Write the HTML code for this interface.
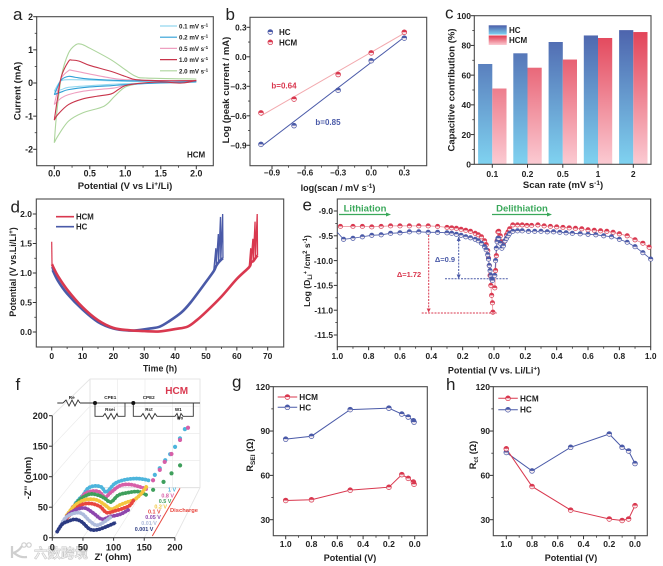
<!DOCTYPE html>
<html>
<head>
<meta charset="utf-8">
<style>
html,body{margin:0;padding:0;background:#fff;width:663px;height:566px;overflow:hidden}
svg{display:block;filter:blur(0.35px);font-family:"Liberation Sans",Arial,sans-serif}
.pl{font-size:17px;fill:#222;font-weight:normal}
.at{font-size:9.5px;font-weight:bold;fill:#222}
.lg{font-size:8px;font-weight:bold;fill:#222}
</style>
</head>
<body>
<svg id="fig" xmlns="http://www.w3.org/2000/svg" width="663" height="566" viewBox="0 0 663 566">
<defs>
<linearGradient id="gHC" x1="0" y1="0" x2="0" y2="1"><stop offset="0" stop-color="#4a5ca8"/><stop offset="1" stop-color="#7fd2f0"/></linearGradient>
<linearGradient id="gHCM" x1="0" y1="0" x2="0" y2="1"><stop offset="0" stop-color="#e0384e"/><stop offset="1" stop-color="#fbcad2"/></linearGradient>
<linearGradient id="gHCb" gradientUnits="userSpaceOnUse" x1="0" y1="20" x2="0" y2="164"><stop offset="0" stop-color="#4a5ca8"/><stop offset="1" stop-color="#7fd2f0"/></linearGradient>
<linearGradient id="gHCMb" gradientUnits="userSpaceOnUse" x1="0" y1="20" x2="0" y2="164"><stop offset="0" stop-color="#e0384e"/><stop offset="1" stop-color="#fbcad2"/></linearGradient>
</defs>
<rect width="663" height="566" fill="#fff"/>

<text class="pl" x="13" y="20">a</text>
<text class="pl" x="225.5" y="20">b</text>
<text class="pl" x="445" y="18.5">c</text>
<text class="pl" x="10.5" y="212.5">d</text>
<text class="pl" x="302.5" y="210.5">e</text>
<text class="pl" x="15.5" y="390">f</text>
<text class="pl" x="232" y="387.5">g</text>
<text class="pl" x="446" y="390">h</text>

<text class="at" x="125" y="189" text-anchor="middle">Potential (V vs Li<tspan font-size="6.5" dy="-3">+</tspan><tspan dy="3">/Li)</tspan></text>
<text class="at" transform="translate(20.5,91) rotate(-90)" text-anchor="middle">Current (mA)</text>
<text class="lg" x="187" y="157.5">HCM</text>

<text class="at" x="338" y="191" text-anchor="middle" style="font-size:9px">log(scan / mV s<tspan font-size="6.5" dy="-3">-1</tspan><tspan dy="3">)</tspan></text>
<text class="at" transform="translate(229,90) rotate(-90)" text-anchor="middle">Log (peak current / mA)</text>
<text class="lg" x="284" y="88.5" text-anchor="middle" style="fill:#d9384f">b=0.64</text>
<text class="lg" x="328" y="125" text-anchor="middle" style="fill:#4a5aa8">b=0.85</text>

<text class="at" x="563" y="188" text-anchor="middle">Scan rate (mV s<tspan font-size="6.5" dy="-3">-1</tspan><tspan dy="3">)</tspan></text>
<text class="at" transform="translate(454.5,90) rotate(-90)" text-anchor="middle">Capacitive contribution (%)</text>

<text class="at" x="160" y="371.5" text-anchor="middle" style="font-size:8.8px">Time (h)</text>
<text class="at" transform="translate(16,272) rotate(-90)" text-anchor="middle" style="font-size:9px">Potential (V vs.Li/Li<tspan font-size="6" dy="-3">+</tspan><tspan dy="3">)</tspan></text>

<text class="at" x="494" y="373.5" text-anchor="middle" style="font-size:9px">Potential (V vs. Li/Li<tspan font-size="6.5" dy="-3">+</tspan><tspan dy="3">)</tspan></text>
<text class="at" transform="translate(310,271) rotate(-90)" text-anchor="middle" style="font-size:8.6px">Log (D<tspan font-size="6" dy="2">Li</tspan><tspan font-size="5.5" dy="-5">+</tspan><tspan dy="3"> /cm</tspan><tspan font-size="6" dy="-3">2</tspan><tspan dy="3"> s</tspan><tspan font-size="6" dy="-3">-1</tspan><tspan dy="3">)</tspan></text>
<text x="365" y="211.5" text-anchor="middle" font-size="9.5" font-weight="bold" fill="#3aa85a">Lithiation</text>
<text x="522" y="211.5" text-anchor="middle" font-size="9.5" font-weight="bold" fill="#3aa85a">Delithiation</text>
<path d="M339 214.5H388" stroke="#3aa85a" stroke-width="1.2" fill="none"/>
<path d="M386 212.5L391 214.5L386 216.5Z" fill="#3aa85a"/>
<path d="M492 214.5H549" stroke="#3aa85a" stroke-width="1.2" fill="none"/>
<path d="M547 212.5L552 214.5L547 216.5Z" fill="#3aa85a"/>

<text class="at" x="350" y="561" text-anchor="middle" style="font-size:9px">Potential (V)</text>
<text class="at" transform="translate(253,455) rotate(-90)" text-anchor="middle" style="font-size:9.2px">R<tspan font-size="6.5" dy="2">SEI</tspan><tspan dy="-2"> (Ω)</tspan></text>
<text class="at" x="571" y="561" text-anchor="middle" style="font-size:9px">Potential (V)</text>
<text class="at" transform="translate(476,455) rotate(-90)" text-anchor="middle" style="font-size:9.2px">R<tspan font-size="6.5" dy="2">ct</tspan><tspan dy="-2"> (Ω)</tspan></text>

<text class="at" x="113" y="560" text-anchor="middle" style="font-size:9.5px">Z' (ohm)</text>
<text class="at" transform="translate(31,478) rotate(-90)" text-anchor="middle" style="font-size:9.5px">-Z'' (ohm)</text>

<g id="watermark">
<path d="M12 546V558M13 553C17 552 20 549 22 546M14 553C17 555 20 558 27 557" fill="none" stroke="#cfcfcf" stroke-width="2.2"/>
<circle cx="24" cy="545" r="2.2" fill="none" stroke="#cfcfcf" stroke-width="1.2"/>
<circle cx="29" cy="545" r="2.2" fill="none" stroke="#cfcfcf" stroke-width="1.2"/>
<text x="34" y="558" font-size="13.5" font-weight="bold" fill="#f3f3f3" stroke="#c9c9c9" stroke-width="0.6" style="font-family:'Liberation Sans','Noto Sans CJK SC',sans-serif">六数跨境</text>
</g>
<g id="layer"></g>
</svg>
<script>
// ---- panel a: cyclic voltammetry (upper and lower branches) ----
const cvRates = ['0.1 mV s', '0.2 mV s', '0.5 mV s', '1.0 mV s', '2.0 mV s'];
const cvUpperV0 = [0, 0.05, 0.1, 0.2, 0.5, 1.0, 1.5, 2.0];
const cvUpperI0 = [-0.25, -0.05, 0.07, 0.1, 0.09, 0.05, 0.05, 0.04];
const cvLowerV0 = [0, 0.1, 0.2, 0.5, 1.0, 1.5, 2.0];
const cvLowerI0 = [-0.25, -0.2, -0.13, -0.08, -0.02, 0, 0.03];
const cvUpperV1 = [0, 0.05, 0.1, 0.2, 0.3, 0.5, 1.0, 1.5, 2.0];
const cvUpperI1 = [-0.35, -0.1, 0.1, 0.2, 0.17, 0.12, 0.07, 0.06, 0.05];
const cvLowerV1 = [0, 0.1, 0.2, 0.5, 0.8, 1.0, 1.5, 2.0];
const cvLowerI1 = [-0.35, -0.27, -0.2, -0.12, -0.08, -0.05, 0, 0.03];
const cvUpperV2 = [0, 0.05, 0.1, 0.2, 0.25, 0.5, 0.8, 1.0, 1.5, 2.0];
const cvUpperI2 = [-0.65, -0.2, 0.15, 0.37, 0.38, 0.27, 0.15, 0.1, 0.07, 0.07];
const cvLowerV2 = [0, 0.1, 0.2, 0.4, 0.7, 0.85, 1.0, 1.2, 1.5, 2.0];
const cvLowerI2 = [-0.65, -0.45, -0.35, -0.25, -0.18, -0.15, -0.07, -0.02, 0.01, 0.05];
const cvUpperV3 = [0, 0.05, 0.1, 0.2, 0.25, 0.35, 0.5, 0.8, 1.0, 1.15, 1.5, 2.0];
const cvUpperI3 = [-1.12, -0.4, 0.2, 0.65, 0.69, 0.66, 0.53, 0.35, 0.2, 0.1, 0.07, 0.07];
const cvLowerV3 = [0, 0.05, 0.2, 0.4, 0.6, 0.8, 0.9, 1.0, 1.2, 1.5, 1.8, 2.0];
const cvLowerI3 = [-1.12, -0.95, -0.65, -0.48, -0.4, -0.33, -0.2, -0.08, -0.01, 0.03, 0, 0.08];
const cvUpperV4 = [0, 0.03, 0.1, 0.2, 0.3, 0.38, 0.5, 0.8, 1.0, 1.15, 1.3, 2.0];
const cvUpperI4 = [-1.8, -1.0, 0.2, 0.9, 1.15, 1.17, 1.05, 0.7, 0.4, 0.2, 0.15, 0.12];
const cvLowerV4 = [0, 0.05, 0.2, 0.4, 0.7, 0.85, 1.0, 1.2, 1.5, 2.0];
const cvLowerI4 = [-1.8, -1.6, -1.15, -0.9, -0.7, -0.4, -0.12, -0.02, 0.03, 0.06];
const aXTicks = [0, 0.5, 1, 1.5, 2];
const aXLabels = ['0.0', '0.5', '1.0', '1.5', '2.0'];
const aXMinor = [0.25, 0.75, 1.25, 1.75];
const aYTicks = [-2, -1, 0, 1, 2];
const aYLabels = ['-2', '-1', '0', '1', '2'];
const aYMinor = [-1.5, -0.5, 0.5, 1.5];

// ---- panel b: peak current fit ----
const bScan = [-1, -0.7, -0.3, 0, 0.3];
const bHC = [-0.89, -0.7, -0.34, -0.04, 0.19];
const bHCM = [-0.57, -0.43, -0.18, 0.04, 0.25];
const bFitX = [-1, 0.3];
const bFitHC = [-0.915, 0.2];
const bFitHCM = [-0.6, 0.24];
const bTicks = [-0.9, -0.6, -0.3, 0, 0.3];
const bXLabels = ['−0.9', '−0.6', '−0.3', '0.0', '0.3'];
const bYLabels = ['−0.9', '−0.6', '−0.3', '0.0', '0.3'];
const bMinor = [-0.75, -0.45, -0.15, 0.15];

// ---- panel c: capacitive contribution ----
const cCats = ['0.1', '0.2', '0.5', '1', '2'];
const cHC = [67.5, 74.7, 82.3, 86.7, 90.3];
const cHCM = [51, 65, 70.5, 85, 89];
const cYTicks = [0, 20, 40, 60, 80, 100];
const cYMinor = [10, 30, 50, 70, 90];

// ---- panel d: GITT curves (spikes begin at dHcmSpikeFrom / dHcSpikeFrom hours) ----
const dHcmT = [0, 0.1, 0.5, 2, 5, 10, 15, 20, 25, 30, 35, 40, 44, 47, 50, 55, 60, 64, 64.5, 64.6, 65.2, 65.3, 65.9, 66, 66.6, 66.7];
const dHcmV = [1.53, 1.15, 1.1, 0.95, 0.72, 0.42, 0.2, 0.07, 0.03, 0.015, 0.01, 0.05, 0.09, 0.2, 0.34, 0.6, 0.9, 1.1, 1.42, 1.18, 1.58, 1.2, 1.87, 1.25, 2.0, 1.3];
const dHcT = [0, 0.3, 2, 5, 10, 15, 20, 25, 28, 32, 35, 38, 42, 45, 50, 52.5, 53.2, 53.3, 54, 54.1, 54.7, 54.8, 55.4, 55.5];
const dHcV = [1.1, 1.05, 0.87, 0.65, 0.38, 0.17, 0.06, 0.025, 0.03, 0.06, 0.09, 0.18, 0.33, 0.5, 0.85, 1.03, 1.42, 1.12, 1.66, 1.18, 1.95, 1.22, 2.0, 1.25];
const dHcmSpikeFrom = 64;
const dHcSpikeFrom = 52.5;
const dXTicks = [0, 10, 20, 30, 40, 50, 60, 70];
const dXMinor = [5, 15, 25, 35, 45, 55, 65];
const dYTicks = [0, 0.5, 1, 1.5, 2];
const dYLabels = ['0.0', '0.5', '1.0', '1.5', '2.0'];
const dYMinor = [0.25, 0.75, 1.25, 1.75];

// ---- panel e: diffusion coefficient ----
const eHcmLithV = [0.98, 0.9, 0.84, 0.78, 0.72, 0.66, 0.6, 0.54, 0.48, 0.42, 0.36, 0.3, 0.27, 0.24, 0.21, 0.18, 0.15, 0.12, 0.1, 0.08, 0.06, 0.05, 0.04, 0.035, 0.03, 0.025, 0.02, 0.015, 0.01, 0.007];
const eHcmLithD = [-9.31, -9.31, -9.31, -9.32, -9.31, -9.3, -9.3, -9.3, -9.3, -9.3, -9.31, -9.33, -9.34, -9.35, -9.37, -9.39, -9.41, -9.45, -9.48, -9.52, -9.6, -9.68, -9.8, -9.95, -10.1, -10.3, -10.5, -10.7, -10.85, -11.04];
const eHcmDelV = [0.005, 0.01, 0.015, 0.02, 0.025, 0.03, 0.04, 0.05, 0.06, 0.07, 0.08, 0.09, 0.1, 0.12, 0.15, 0.18, 0.21, 0.24, 0.28, 0.32, 0.36, 0.4, 0.44, 0.48, 0.52, 0.56, 0.6, 0.64, 0.68, 0.72, 0.76, 0.8, 0.85, 0.9, 0.95, 0.99];
const eHcmDelD = [-10.55, -10.2, -9.9, -9.6, -9.42, -9.41, -9.5, -9.62, -9.65, -9.6, -9.48, -9.42, -9.36, -9.28, -9.28, -9.28, -9.29, -9.29, -9.28, -9.3, -9.31, -9.32, -9.33, -9.34, -9.35, -9.36, -9.38, -9.39, -9.4, -9.41, -9.43, -9.46, -9.5, -9.58, -9.65, -9.73];
const eHcLithV = [0.96, 0.9, 0.84, 0.78, 0.72, 0.66, 0.6, 0.54, 0.48, 0.42, 0.36, 0.3, 0.27, 0.24, 0.21, 0.18, 0.15, 0.12, 0.1, 0.08, 0.06, 0.05, 0.04, 0.035, 0.03, 0.025, 0.02, 0.015, 0.01];
const eHcLithD = [-9.57, -9.55, -9.52, -9.49, -9.48, -9.45, -9.44, -9.42, -9.42, -9.43, -9.43, -9.44, -9.45, -9.47, -9.49, -9.52, -9.54, -9.57, -9.6, -9.65, -9.72, -9.78, -9.88, -9.97, -10.1, -10.2, -10.3, -10.37, -10.4];
const eHcLineStart = [1.0, -9.43];
const eHcDelV = [0.005, 0.01, 0.015, 0.02, 0.025, 0.03, 0.04, 0.05, 0.06, 0.07, 0.08, 0.09, 0.1, 0.12, 0.15, 0.18, 0.22, 0.26, 0.3, 0.34, 0.38, 0.42, 0.46, 0.5, 0.55, 0.6, 0.65, 0.7, 0.75, 0.8, 0.85, 0.9, 0.95, 1.0];
const eHcDelD = [-10.3, -10.0, -9.75, -9.62, -9.55, -9.55, -9.65, -9.75, -9.7, -9.6, -9.55, -9.5, -9.45, -9.41, -9.4, -9.4, -9.41, -9.41, -9.41, -9.42, -9.42, -9.43, -9.44, -9.45, -9.46, -9.47, -9.48, -9.5, -9.52, -9.57, -9.63, -9.72, -9.84, -9.97];
const eXTicks = [-1, -0.8, -0.6, -0.4, -0.2, 0, 0.2, 0.4, 0.6, 0.8, 1];
const eXLabels = ['1.0', '0.8', '0.6', '0.4', '0.2', '0.0', '0.2', '0.4', '0.6', '0.8', '1.0'];
const eXMinor = [-0.9, -0.7, -0.5, -0.3, -0.1, 0.1, 0.3, 0.5, 0.7, 0.9];
const eYTicks = [-11.5, -11, -10.5, -10, -9.5, -9];
const eYLabels = ['-11.5', '-11.0', '-10.5', '-10.0', '-9.5', '-9.0'];
const eYMinor = [-11.25, -10.75, -10.25, -9.75, -9.25];

// ---- panel f: stacked Nyquist plot, back to front ----
const fNames = ['1 V', '0.8 V', '0.5 V', '0.2 V', '0.1 V', '0.05 V', '0.01 V', '0.001 V'];
const fColors = ['#4db5dc', '#d75fa8', '#3f9f5c', '#f3c63f', '#e8473f', '#8e46ad', '#aebbdc', '#2c3b82'];
const fDepth = [7, 6, 5, 4, 3, 2, 1, 0];
const fTail = [7, 6, 4, 0, 0, 0, 0, 0];
const fRe0 = [4, 11, 16, 24, 35, 46, 54, 68, 84, 101, 114, 125, 133, 141, 150, 158, 166, 174, 182];
const fIm0 = [3, 11, 16, 27, 31, 29, 21, 35, 41, 43, 42, 39.5, 49, 60, 73, 83, 95, 109, 124];
const fRe1 = [4, 16, 24, 35, 47, 57, 65, 81, 97, 114, 125, 135, 146, 154, 165, 179, 192];
const fIm1 = [4, 16, 26, 30, 29, 20, 27, 39, 41, 37, 33, 48, 65, 78, 91, 114, 134];
const fRe2 = [6, 15, 23, 37, 51, 61, 71, 83, 97, 116, 130, 140, 157, 170, 184];
const fIm2 = [7, 18, 26, 33, 31, 26, 20, 31, 35, 37, 31, 40, 53, 67, 80];
const fRe3 = [4, 15, 26, 37, 53, 66, 77, 91, 104, 115, 126, 134];
const fIm3 = [6, 20, 28, 32, 31, 23, 16, 23, 28, 32, 42, 53];
const fRe4 = [6, 17, 31, 47, 63, 74, 88, 101, 112, 119];
const fIm4 = [6, 17, 30, 33, 28, 18, 21, 25, 30, 40];
const fRe5 = [6, 16, 30, 44, 57, 71, 84, 101, 114];
const fIm5 = [7, 22, 31, 33, 25, 15, 19, 23, 30];
const fRe6 = [8, 16, 29, 43, 57, 70, 92];
const fIm6 = [10, 24, 32, 32, 19, 13, 27];
const fRe7 = [8, 16, 26, 37, 48, 61, 73, 88, 104];
const fIm7 = [10, 22, 27, 30, 26, 14, 13, 18, 25];
const fTicks = [0, 50, 100, 150, 200];

// ---- panels g and h: fitted resistances ----
const gV = [1, 0.8, 0.5, 0.2, 0.1, 0.05, 0.01, 0.005];
const gHC = [84.5, 86.5, 104.5, 105.5, 101.5, 99.5, 97, 96];
const gHCM = [43, 43.5, 50, 52, 60.5, 58, 55.5, 54];
const hV = [1, 0.8, 0.5, 0.2, 0.1, 0.05, 0];
const hHC = [75.5, 63, 79, 88, 79, 76.5, 68];
const hHCM = [78, 52.5, 36.5, 30.5, 29.5, 30.5, 39.5];
const rXTicks = [1, 0.8, 0.6, 0.4, 0.2, 0];
const rXLabels = ['1.0', '0.8', '0.6', '0.4', '0.2', '0.0'];
const rXMinor = [0.9, 0.7, 0.5, 0.3, 0.1];
const rYTicks = [30, 60, 90, 120];
const rYMinor = [45, 75, 105];

const BLUE = '#4a5aa8', RED = '#d9384f';
const NS = 'http://www.w3.org/2000/svg';
const layer = document.getElementById('layer');

function make(tag, attrs, parent, name) {
  const e = document.createElementNS(NS, tag);
  for (const k in attrs) e.setAttribute(k, attrs[k]);
  
  
  (parent || layer).appendChild(e);
  return e;
}
function label(parent, x, y, s, name, anchor, size, fill) {
  const e = make('text', {x: x, y: y, 'text-anchor': anchor || 'start', 'font-size': size || 9, 'font-weight': 'bold', fill: fill || '#222'}, parent, name);
  e.textContent = s;
  return e;
}
function straight(pts) {
  return pts.map((p, i) => (i ? 'L' : 'M') + p[0].toFixed(2) + ' ' + p[1].toFixed(2)).join('');
}
function smooth(pts) {
  let d = 'M' + pts[0][0].toFixed(2) + ' ' + pts[0][1].toFixed(2);
  for (let i = 0; i < pts.length - 1; i++) {
    const a = pts[Math.max(i - 1, 0)], b = pts[i], c = pts[i + 1], e = pts[Math.min(i + 2, pts.length - 1)];
    const c1x = b[0] + (c[0] - a[0]) / 6, c1y = b[1] + (c[1] - a[1]) / 6;
    const c2x = c[0] - (e[0] - b[0]) / 6, c2y = c[1] - (e[1] - b[1]) / 6;
    d += 'C' + c1x.toFixed(2) + ' ' + c1y.toFixed(2) + ' ' + c2x.toFixed(2) + ' ' + c2y.toFixed(2) + ' ' + c[0].toFixed(2) + ' ' + c[1].toFixed(2);
  }
  return d;
}
function zip(xs, ys, fx, fy) { return xs.map((v, i) => [fx(v), fy(ys[i])]); }
function halfMarker(parent, x, y, r, color, name) {
  const g = make('g', {}, parent, name);
  make('circle', {cx: x, cy: y, r: r, fill: '#f8eef0', 'fill-opacity': 0.9, stroke: color, 'stroke-width': 0.7}, g, name + '-ring');
  make('path', {d: 'M' + (x - r) + ' ' + y + 'A' + r + ' ' + r + ' 0 0 1 ' + (x + r) + ' ' + y + 'Z', fill: color}, g, name + '-fill');
}
function linear(d0, r0, d1, r1) { return v => r0 + (v - d0) * (r1 - r0) / (d1 - d0); }

function axes(c) {
  const g = make('g', {}, layer, c.name + '-axes');
  make('rect', {x: c.x0, y: c.y0, width: c.x1 - c.x0, height: c.y1 - c.y0, fill: 'none', stroke: '#4a4a4a', 'stroke-width': 1.1}, g, c.name + '-frame');
  c.xTicks.forEach((v, i) => {
    const x = c.fx(v);
    make('line', {x1: x, x2: x, y1: c.y1, y2: c.y1 + 3.5, stroke: '#333', 'stroke-width': 1}, g, c.name + '-x-tick');
    label(g, x, c.xLabelY, c.xLabels[i], c.name + '-x-tick-label', 'middle', c.fs);
  });
  (c.xMinor || []).forEach(v => {
    const x = c.fx(v);
    make('line', {x1: x, x2: x, y1: c.y1, y2: c.y1 + 2, stroke: '#333', 'stroke-width': 0.8}, g, c.name + '-x-minor-tick');
  });
  c.yTicks.forEach((v, i) => {
    const y = c.fy(v);
    make('line', {x1: c.x0 - 3.5, x2: c.x0, y1: y, y2: y, stroke: '#333', 'stroke-width': 1}, g, c.name + '-y-tick');
    label(g, c.yLabelX, y + 3.2, c.yLabels[i], c.name + '-y-tick-label', 'end', c.fs);
  });
  (c.yMinor || []).forEach(v => {
    const y = c.fy(v);
    make('line', {x1: c.x0 - 2, x2: c.x0, y1: y, y2: y, stroke: '#333', 'stroke-width': 0.8}, g, c.name + '-y-minor-tick');
  });
  return g;
}

// panel a
(function () {
  const fx = linear(0, 54.3, 2, 196.3), fy = linear(0, 83, 2, 16.7);
  axes({name: 'a', x0: 36.7, x1: 213.3, y0: 16.7, y1: 165.7, fx, fy, xTicks: aXTicks, xLabels: aXLabels, xMinor: aXMinor, yTicks: aYTicks, yLabels: aYLabels, yMinor: aYMinor, xLabelY: 176.5, yLabelX: 33, fs: 8.8});
  const colors = ['#93d8ef', '#2f9fd6', '#ee9fc0', '#c8344a', '#add59d'];
  const upV = [cvUpperV0, cvUpperV1, cvUpperV2, cvUpperV3, cvUpperV4];
  const upI = [cvUpperI0, cvUpperI1, cvUpperI2, cvUpperI3, cvUpperI4];
  const loV = [cvLowerV0, cvLowerV1, cvLowerV2, cvLowerV3, cvLowerV4];
  const loI = [cvLowerI0, cvLowerI1, cvLowerI2, cvLowerI3, cvLowerI4];
  [4, 0, 2, 1, 3].forEach(i => {
    make('path', {d: smooth(zip(upV[i], upI[i], fx, fy)), fill: 'none', stroke: colors[i], 'stroke-width': 1.1}, null, 'cv-upper-' + i);
    make('path', {d: smooth(zip(loV[i], loI[i], fx, fy)), fill: 'none', stroke: colors[i], 'stroke-width': 1.1}, null, 'cv-lower-' + i);
  });
  cvRates.forEach((s, i) => {
    const y = 26 + i * 11.2;
    make('line', {x1: 160, x2: 177, y1: y, y2: y, stroke: colors[i], 'stroke-width': 1.2}, null, 'a-legend-line');
    const t = label(null, 179, y + 2.5, s, 'a-legend-label', 'start', 6.2);
    const sup = document.createElementNS(NS, 'tspan');
    
    
    sup.setAttribute('dy', '-2');
    sup.setAttribute('font-size', '4.5');
    sup.textContent = '-1';
    t.appendChild(sup);
  });
})();

// panel b
(function () {
  const fx = linear(-0.9, 272, 0.3, 404.3), fy = linear(0.3, 27.3, -0.9, 145.3);
  axes({name: 'b', x0: 250, x1: 426.7, y0: 17.3, y1: 165.7, fx, fy, xTicks: bTicks, xLabels: bXLabels, xMinor: bMinor, yTicks: bTicks, yLabels: bYLabels, yMinor: bMinor, xLabelY: 175.5, yLabelX: 246.5, fs: 8.2});
  make('path', {d: straight(zip(bFitX, bFitHCM, fx, fy)), stroke: '#f2a9ae', 'stroke-width': 1, fill: 'none'}, null, 'b-fit-line-hcm');
  make('path', {d: straight(zip(bFitX, bFitHC, fx, fy)), stroke: BLUE, 'stroke-width': 1, fill: 'none'}, null, 'b-fit-line-hc');
  bScan.forEach((v, i) => {
    halfMarker(layer, fx(v), fy(bHC[i]), 2.4, BLUE, 'b-point-hc');
    halfMarker(layer, fx(v), fy(bHCM[i]), 2.4, RED, 'b-point-hcm');
  });
  halfMarker(layer, 270.3, 32, 2.4, BLUE, 'b-legend-marker-hc');
  halfMarker(layer, 270.3, 42.3, 2.4, RED, 'b-legend-marker-hcm');
  label(null, 279, 35, 'HC', 'b-legend-label-hc', 'start', 8);
  label(null, 279, 45.3, 'HCM', 'b-legend-label-hcm', 'start', 8);
})();

// panel c
(function () {
  const pos = [492.3, 527.5, 562.8, 598, 633.3];
  const fx = v => pos[cCats.indexOf(v)], fy = linear(0, 164.3, 100, 15.7);
  const bw = 14.2;
  cCats.forEach((cat, i) => {
    const x = fx(cat);
    make('rect', {x: x - bw, y: fy(cHC[i]), width: bw, height: fy(0) - fy(cHC[i]), fill: 'url(#gHCb)'}, null, 'bar-hc-' + cat);
    make('rect', {x: x, y: fy(cHCM[i]), width: bw, height: fy(0) - fy(cHCM[i]), fill: 'url(#gHCMb)'}, null, 'bar-hcm-' + cat);
  });
  axes({name: 'c', x0: 474.3, x1: 651, y0: 15.7, y1: 164.3, fx, fy, xTicks: cCats, xLabels: cCats, yTicks: cYTicks, yLabels: cYTicks.map(String), yMinor: cYMinor, xLabelY: 177, yLabelX: 471, fs: 8.5});
  make('rect', {x: 488.7, y: 25.3, width: 18, height: 9.3, fill: 'url(#gHC)'}, null, 'c-legend-swatch-hc');
  make('rect', {x: 488.7, y: 35.5, width: 18, height: 9.5, fill: 'url(#gHCM)'}, null, 'c-legend-swatch-hcm');
  label(null, 509, 32.8, 'HC', 'c-legend-label-hc', 'start', 8);
  label(null, 509, 43.2, 'HCM', 'c-legend-label-hcm', 'start', 8);
})();

// panel d
(function () {
  const fx = linear(0, 51.7, 70, 267.7), fy = linear(0, 332, 2, 214);
  axes({name: 'd', x0: 36.3, x1: 283.7, y0: 199, y1: 347, fx, fy, xTicks: dXTicks, xLabels: dXTicks.map(String), xMinor: dXMinor, yTicks: dYTicks, yLabels: dYLabels, yMinor: dYMinor, xLabelY: 358.8, yLabelX: 32, fs: 8.5});
  function draw(ts, vs, from, color, key) {
    const all = zip(ts, vs, fx, fy);
    const split = ts.indexOf(from);
    const lows = all.slice(split).filter((p, i) => i % 2 === 0 ? i === 0 : true).filter((p, i) => i === 0 || i % 2 === 0);
    make('path', {d: straight(all.slice(0, 2)), fill: 'none', stroke: color, 'stroke-width': 1.2}, null, 'd-start-' + key);
    make('path', {d: straight(all.slice(split)), fill: 'none', stroke: color, 'stroke-width': 1.3, 'stroke-linejoin': 'miter'}, null, 'd-spikes-' + key);
    make('path', {d: smooth(all.slice(1, split + 1).concat(all.slice(split + 1).filter((p, i) => i % 2 === 1))), fill: 'none', stroke: color, 'stroke-width': 2.6, 'stroke-linejoin': 'round'}, null, 'd-curve-' + key);
  }
  draw(dHcT, dHcV, dHcSpikeFrom, BLUE, 'hc');
  draw(dHcmT, dHcmV, dHcmSpikeFrom, RED, 'hcm');
  make('line', {x1: 56, x2: 74, y1: 216.7, y2: 216.7, stroke: RED, 'stroke-width': 1.6}, null, 'd-legend-line-hcm');
  make('line', {x1: 56, x2: 74, y1: 226.7, y2: 226.7, stroke: BLUE, 'stroke-width': 1.6}, null, 'd-legend-line-hc');
  label(null, 76, 219.7, 'HCM', 'd-legend-label-hcm', 'start', 7.8);
  label(null, 76, 229.7, 'HC', 'd-legend-label-hc', 'start', 7.8);
})();

// panel e
(function () {
  const fx = linear(-1, 337.3, 1, 650.7), fy = linear(-9, 211, -11.5, 335);
  axes({name: 'e', x0: 337.3, x1: 650.7, y0: 199, y1: 346.7, fx, fy, xTicks: eXTicks, xLabels: eXLabels, xMinor: eXMinor, yTicks: eYTicks, yLabels: eYLabels, yMinor: eYMinor, xLabelY: 359, yLabelX: 333, fs: 8.4});
  const neg = v => fx(-v);
  const hcLeft = [[neg(eHcLineStart[0]), fy(eHcLineStart[1])]].concat(zip(eHcLithV, eHcLithD, neg, fy));
  make('path', {d: straight(zip(eHcmLithV, eHcmLithD, neg, fy)), fill: 'none', stroke: '#ea8a94', 'stroke-width': 0.8}, null, 'e-line-hcm-lithiation');
  make('path', {d: straight(zip(eHcmDelV, eHcmDelD, fx, fy)), fill: 'none', stroke: '#ea8a94', 'stroke-width': 0.8}, null, 'e-line-hcm-delithiation');
  make('path', {d: straight(hcLeft), fill: 'none', stroke: BLUE, 'stroke-width': 0.8}, null, 'e-line-hc-lithiation');
  make('path', {d: straight(zip(eHcDelV, eHcDelD, fx, fy)), fill: 'none', stroke: BLUE, 'stroke-width': 0.8}, null, 'e-line-hc-delithiation');
  eHcmLithV.forEach((v, i) => halfMarker(layer, neg(v), fy(eHcmLithD[i]), 2.2, RED, 'e-point-hcm-lithiation'));
  eHcmDelV.forEach((v, i) => halfMarker(layer, fx(v), fy(eHcmDelD[i]), 2.2, RED, 'e-point-hcm-delithiation'));
  eHcLithV.forEach((v, i) => halfMarker(layer, neg(v), fy(eHcLithD[i]), 2.2, BLUE, 'e-point-hc-lithiation'));
  eHcDelV.forEach((v, i) => halfMarker(layer, fx(v), fy(eHcDelD[i]), 2.2, BLUE, 'e-point-hc-delithiation'));
  make('path', {d: 'M428.7 235V311M421.7 313H496.7', stroke: RED, 'stroke-width': 1, 'stroke-dasharray': '2 1.2', fill: 'none'}, null, 'e-delta-guide-hcm');
  make('path', {d: 'M426.7 308.5L428.7 312.5L430.7 308.5Z', fill: RED}, null, 'e-delta-arrow-hcm');
  make('path', {d: 'M458.7 237V277M445 278.7H508', stroke: BLUE, 'stroke-width': 1, 'stroke-dasharray': '2 1.2', fill: 'none'}, null, 'e-delta-guide-hc');
  make('path', {d: 'M456.7 241L458.7 236.5L460.7 241ZM456.7 274.5L458.7 279L460.7 274.5Z', fill: BLUE}, null, 'e-delta-arrow-hc');
  label(null, 409, 277, 'Δ=1.72', 'e-delta-label-hcm', 'middle', 7.5, RED);
  label(null, 445, 262, 'Δ=0.9', 'e-delta-label-hc', 'middle', 7.5, BLUE);
})();

// panel f
(function () {
  const g = make('g', {}, layer, 'f-nyquist');
  const ox = 52.3, oy = 537.7, kx = 0.613, ky = 0.61, ddx = 3, ddy = 4.7;
  const sx = (z, d) => ox + z * kx + d * ddx;
  const sy = (z, d) => oy - z * ky - d * ddy;
  // wireframe walls
  const wall = '#e8e8e8';
  make('path', {d: 'M52.3 415.7L90 379H200V487.7L175 537.7M90 379V487.7H200M52.3 537.7L90 487.7', fill: 'none', stroke: '#dcdcdc', 'stroke-width': 0.8}, g, 'f-wireframe');
  fTicks.forEach(v => {
    if (!v) return;
    make('line', {x1: 90 + v * 0.55, x2: 90 + v * 0.55, y1: 379, y2: 487.7, stroke: wall, 'stroke-width': 0.6}, g, 'f-back-wall-grid-v');
    make('line', {x1: 90, x2: 200, y1: 487.7 - v * 0.5435, y2: 487.7 - v * 0.5435, stroke: wall, 'stroke-width': 0.6}, g, 'f-back-wall-grid-h');
    make('line', {x1: 52.3 + v * kx, x2: 90 + v * 0.55, y1: 537.7, y2: 487.7, stroke: wall, 'stroke-width': 0.6}, g, 'f-floor-grid');
    make('line', {x1: 52.3, x2: 90, y1: 537.7 - v * ky, y2: 487.7 - v * 0.5435, stroke: wall, 'stroke-width': 0.6}, g, 'f-side-wall-grid');
  });
  // circuit diagram
  const circ = 'M57.3 403H63M80 403H200M95 403V416.3H103L105 413.5L108 419L111 413.5L114 419L117 413.5L118 416.3H125V403M133.3 403V416.3H141L143 413.5L146 419L149 413.5L152 419L155 413.5L157 416.3H175L177 413.5L179 419L181 413.5L183 416.3H193.3V403';
  make('path', {d: circ, fill: 'none', stroke: '#333', 'stroke-width': 0.9}, g, 'f-circuit-wires');
  make('path', {d: 'M63 403L66 400L69 406L72 400L75 406L78 400L80 403', fill: 'none', stroke: '#333', 'stroke-width': 0.9}, g, 'f-circuit-re-zigzag');
  make('circle', {cx: 95, cy: 403, r: 2, fill: '#111'}, g, 'f-circuit-node-1');
  make('circle', {cx: 133.3, cy: 403, r: 2, fill: '#111'}, g, 'f-circuit-node-2');
  label(g, 71.7, 399, 'Re', 'f-circuit-label-re', 'middle', 4.6);
  label(g, 110.3, 399, 'CPE1', 'f-circuit-label-cpe1', 'middle', 4.6);
  label(g, 110, 411, 'Rsei', 'f-circuit-label-rsei', 'middle', 4.6);
  label(g, 148.7, 399, 'CPE2', 'f-circuit-label-cpe2', 'middle', 4.6);
  label(g, 149, 411, 'Rct', 'f-circuit-label-rct', 'middle', 4.6);
  label(g, 178.3, 411, 'W1', 'f-circuit-label-w1', 'middle', 4.6);
  label(g, 180, 419.5, 'Wo', 'f-circuit-label-wo', 'middle', 4.2);
  label(g, 176.7, 394, 'HCM', 'f-title-hcm', 'middle', 10, '#d9384f');
  // series
  const res = [fRe0, fRe1, fRe2, fRe3, fRe4, fRe5, fRe6, fRe7];
  const ims = [fIm0, fIm1, fIm2, fIm3, fIm4, fIm5, fIm6, fIm7];
  res.forEach((re, i) => {
    const d = fDepth[i];
    const pts = re.map((z, k) => [sx(z, d), sy(ims[i][k], d)]);
    const body = pts.slice(0, pts.length - fTail[i]);
    make('path', {d: smooth(body), fill: 'none', stroke: fColors[i], 'stroke-width': 3.8, 'stroke-linecap': 'round', 'stroke-dasharray': '0.1 2.9'}, g, 'f-series-' + i);
    make('path', {d: smooth(body), fill: 'none', stroke: fColors[i], 'stroke-width': 2.8, opacity: 0.85}, g, 'f-series-core-' + i);
    pts.slice(pts.length - fTail[i]).forEach(p => {
      make('circle', {cx: p[0], cy: p[1], r: 2.1, fill: fColors[i]}, g, 'f-tail-point-' + i);
    });
  });
  // front axes
  make('path', {d: 'M52.3 415.7V537.7H175', fill: 'none', stroke: '#444', 'stroke-width': 1.1}, g, 'f-front-axes');
  fTicks.forEach(v => {
    make('line', {x1: 49, x2: 52.3, y1: oy - v * ky, y2: oy - v * ky, stroke: '#333', 'stroke-width': 1}, g, 'f-y-tick');
    label(g, 48, oy - v * ky + 3.4, String(v), 'f-y-tick-label', 'end', 9.2);
    make('line', {x1: ox + v * kx, x2: ox + v * kx, y1: oy, y2: oy + 3, stroke: '#333', 'stroke-width': 1}, g, 'f-x-tick');
    label(g, ox + v * kx, 550.5, String(v), 'f-x-tick-label', 'middle', 9.2);
  });
  // depth labels
  const lx = [172, 167.7, 165, 160.7, 154.3, 153, 149, 144];
  const ly = [491.5, 497.5, 503, 508.5, 513.5, 518.8, 524.8, 530.8];
  fNames.forEach((s, i) => {
    label(g, lx[i], ly[i], s, 'f-voltage-label', 'middle', 5.4, fColors[i]);
  });
  make('line', {x1: 180, y1: 488.3, x2: 152.3, y2: 536, stroke: '#e8473f', 'stroke-width': 1}, g, 'f-discharge-line');
  label(g, 184, 512, 'Discharge', 'f-discharge-label', 'middle', 5.8, '#e8473f');
})();

// panels g and h
function resistance(name, x0, x1, x10, x00, vs, hc, hcm, legendY, legendX, ylabelX, lblX) {
  const fx = linear(1, x10, 0, x00), fy = linear(120, 386.7, 30, 519.7);
  axes({name, x0, x1, y0: 386.7, y1: 535.7, fx, fy, xTicks: rXTicks, xLabels: rXLabels, xMinor: rXMinor, yTicks: rYTicks, yLabels: rYTicks.map(String), yMinor: rYMinor, xLabelY: 547, yLabelX: ylabelX, fs: 8.6});
  make('path', {d: straight(zip(vs, hc, fx, fy)), fill: 'none', stroke: BLUE, 'stroke-width': 1}, null, name + '-line-hc');
  make('path', {d: straight(zip(vs, hcm, fx, fy)), fill: 'none', stroke: RED, 'stroke-width': 1}, null, name + '-line-hcm');
  vs.forEach((v, i) => {
    halfMarker(layer, fx(v), fy(hc[i]), 2.4, BLUE, name + '-point-hc');
    halfMarker(layer, fx(v), fy(hcm[i]), 2.4, RED, name + '-point-hcm');
  });
  make('line', {x1: legendX, x2: legendX + 19.5, y1: legendY[0], y2: legendY[0], stroke: RED, 'stroke-width': 1}, null, name + '-legend-line-hcm');
  make('line', {x1: legendX, x2: legendX + 19.5, y1: legendY[1], y2: legendY[1], stroke: BLUE, 'stroke-width': 1}, null, name + '-legend-line-hc');
  halfMarker(layer, legendX + 9.7, legendY[0], 2.4, RED, name + '-legend-marker-hcm');
  halfMarker(layer, legendX + 9.7, legendY[1], 2.4, BLUE, name + '-legend-marker-hc');
  label(null, lblX, legendY[0] + 3, 'HCM', name + '-legend-label-hcm', 'start', 8.2);
  label(null, lblX, legendY[1] + 3, 'HC', name + '-legend-label-hc', 'start', 8.2);
}
resistance('g', 273.3, 427.3, 285.7, 414.7, gV, gHC, gHCM, [397, 407.3], 277.7, 270, 299.3);
resistance('h', 493.3, 647.3, 506.3, 635, hV, hHC, hHCM, [398.3, 409.7], 498.3, 490, 520);
</script>
</body>
</html>
